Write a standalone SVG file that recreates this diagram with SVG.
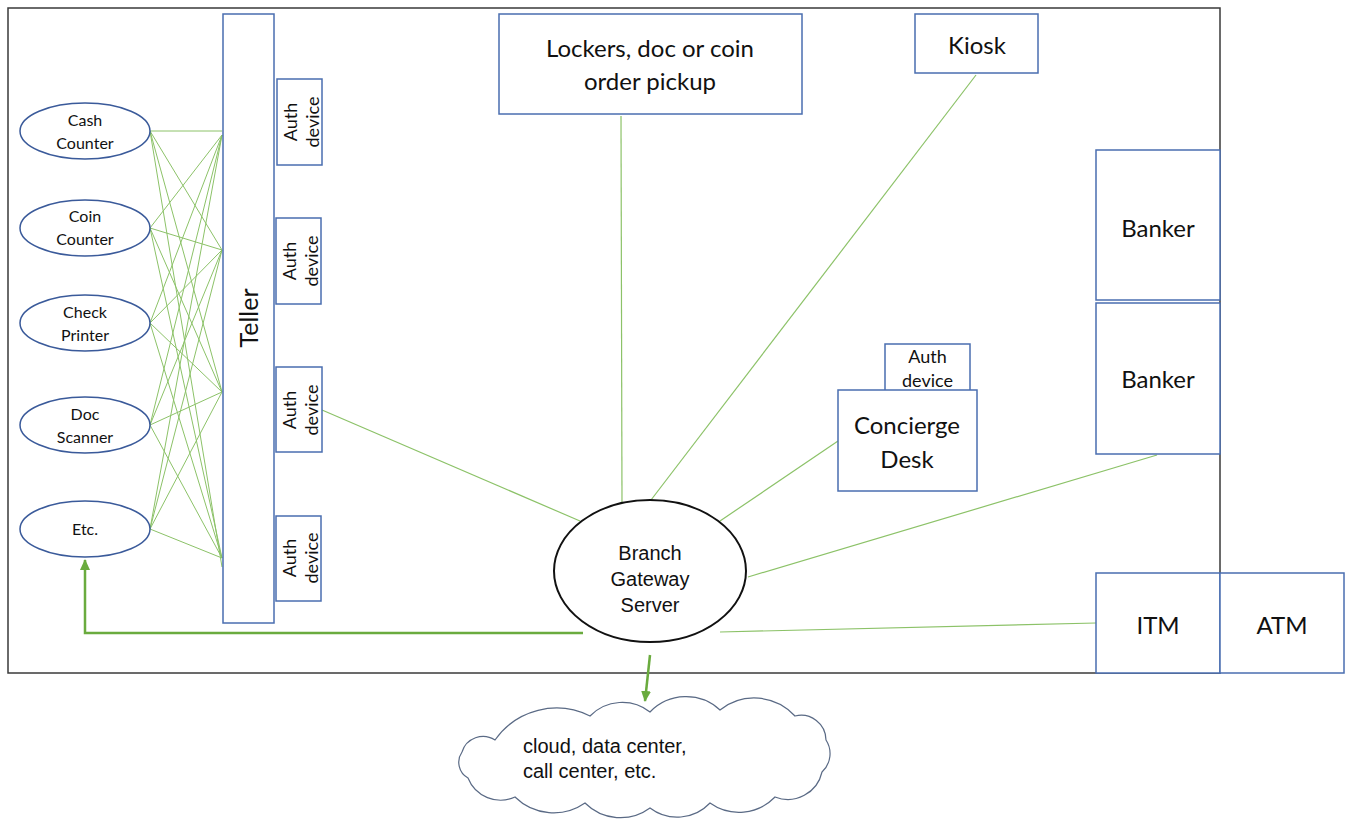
<svg xmlns="http://www.w3.org/2000/svg" width="1350" height="821" viewBox="0 0 1350 821">
<style>
.frame{fill:none;stroke:#3a3a3a;stroke-width:1.5}
.box{fill:#fff;stroke:#4a6eb0;stroke-width:1.5}
.ell{fill:#fff;stroke:#3a5a9a;stroke-width:1.5}
.mesh{stroke:#8cc268;stroke-width:1;fill:none}
.conn{stroke:#8cc268;stroke-width:1.2;fill:none}
.thick{stroke:#6aab3e;stroke-width:2.5;fill:none}
.t{font-family:Lato,"Liberation Sans",sans-serif;fill:#111;text-anchor:middle}
.s{font-family:"Liberation Sans",Arial,sans-serif;fill:#111}
</style>
<defs>
<marker id="ah" markerUnits="userSpaceOnUse" markerWidth="12" markerHeight="12" refX="10" refY="6" orient="auto">
<path d="M0,1 L11,6 L0,11 Z" fill="#6aab3e"/>
</marker>
</defs>
<rect class="frame" x="8" y="8" width="1212" height="665"/>
<g id="connectors">
<g id="mesh">
<line class="mesh" x1="150" y1="131" x2="222" y2="131"/>
<line class="mesh" x1="150" y1="131" x2="222" y2="250"/>
<line class="mesh" x1="150" y1="131" x2="222" y2="392"/>
<line class="mesh" x1="150" y1="131" x2="222" y2="567"/>
<line class="mesh" x1="150" y1="228" x2="222" y2="135"/>
<line class="mesh" x1="150" y1="228" x2="222" y2="250"/>
<line class="mesh" x1="150" y1="228" x2="222" y2="392"/>
<line class="mesh" x1="150" y1="228" x2="222" y2="558"/>
<line class="mesh" x1="150" y1="323" x2="222" y2="135"/>
<line class="mesh" x1="150" y1="323" x2="222" y2="250"/>
<line class="mesh" x1="150" y1="323" x2="222" y2="392"/>
<line class="mesh" x1="150" y1="323" x2="222" y2="558"/>
<line class="mesh" x1="150" y1="425" x2="222" y2="135"/>
<line class="mesh" x1="150" y1="425" x2="222" y2="250"/>
<line class="mesh" x1="150" y1="425" x2="222" y2="392"/>
<line class="mesh" x1="150" y1="425" x2="222" y2="558"/>
<line class="mesh" x1="150" y1="529" x2="222" y2="135"/>
<line class="mesh" x1="150" y1="529" x2="222" y2="250"/>
<line class="mesh" x1="150" y1="529" x2="222" y2="392"/>
<line class="mesh" x1="150" y1="529" x2="222" y2="558"/>
</g>
<line class="conn" x1="322" y1="410" x2="580" y2="521"/>
<line class="conn" x1="621" y1="116" x2="622" y2="505"/>
<line class="conn" x1="976" y1="75" x2="651" y2="500"/>
<line class="conn" x1="838" y1="441" x2="720" y2="521"/>
<line class="conn" x1="1157" y1="455" x2="748" y2="577"/>
<line class="conn" x1="1096" y1="623" x2="720" y2="632"/>
<polyline class="thick" points="583,633 85,633 85,560" marker-end="url(#ah)"/>
<line class="thick" x1="650" y1="655" x2="645" y2="701" marker-end="url(#ah)"/>
</g>
<g id="cash-counter"><ellipse class="ell" cx="85" cy="131" rx="65" ry="28"/><text class="t" font-size="16" x="85" y="126">Cash</text><text class="t" font-size="16" x="85" y="149">Counter</text></g>
<g id="coin-counter"><ellipse class="ell" cx="85" cy="228" rx="65" ry="28"/><text class="t" font-size="16" x="85" y="222">Coin</text><text class="t" font-size="16" x="85" y="245">Counter</text></g>
<g id="check-printer"><ellipse class="ell" cx="85" cy="323" rx="65" ry="28"/><text class="t" font-size="16" x="85" y="318">Check</text><text class="t" font-size="16" x="85" y="341">Printer</text></g>
<g id="doc-scanner"><ellipse class="ell" cx="85" cy="425" rx="65" ry="28"/><text class="t" font-size="16" x="85" y="420">Doc</text><text class="t" font-size="16" x="85" y="443">Scanner</text></g>
<g id="etc"><ellipse class="ell" cx="85" cy="529" rx="65" ry="28"/><text class="t" font-size="16" x="85" y="535">Etc.</text></g>
<g id="teller"><rect class="box" x="223" y="14" width="51" height="609"/><text class="t" font-size="25" transform="translate(249,318) rotate(-90)" x="0" y="9">Teller</text></g>
<g id="auth1"><rect class="box" x="277" y="79" width="45" height="86"/><text class="t" font-size="18" transform="translate(299.5,122) rotate(-90)"><tspan x="0" y="-3">Auth</tspan><tspan x="0" y="19">device</tspan></text></g>
<g id="auth2"><rect class="box" x="276" y="218" width="45" height="86"/><text class="t" font-size="18" transform="translate(298.5,261) rotate(-90)"><tspan x="0" y="-3">Auth</tspan><tspan x="0" y="19">device</tspan></text></g>
<g id="auth3"><rect class="box" x="276" y="367" width="46" height="85"/><text class="t" font-size="18" transform="translate(299,410) rotate(-90)"><tspan x="0" y="-3">Auth</tspan><tspan x="0" y="19">device</tspan></text></g>
<g id="auth4"><rect class="box" x="276" y="516" width="45" height="85"/><text class="t" font-size="18" transform="translate(298.5,558) rotate(-90)"><tspan x="0" y="-3">Auth</tspan><tspan x="0" y="19">device</tspan></text></g>
<g id="lockers"><rect class="box" x="499" y="14" width="303" height="100"/><text class="t" font-size="24" x="650" y="57">Lockers, doc or coin</text><text class="t" font-size="24" x="650" y="90">order pickup</text></g>
<g id="kiosk"><rect class="box" x="915" y="14" width="123" height="59"/><text class="t" font-size="24" x="977" y="54">Kiosk</text></g>
<g id="banker1"><rect class="box" x="1096" y="150" width="124" height="150"/><text class="t" font-size="24" x="1158" y="237">Banker</text></g>
<g id="banker2"><rect class="box" x="1096" y="303" width="124" height="151"/><text class="t" font-size="24" x="1158" y="388">Banker</text></g>
<g id="concierge-auth"><rect class="box" x="885" y="344" width="85" height="47"/><text class="t" font-size="18" x="927.5" y="363">Auth</text><text class="t" font-size="18" x="927.5" y="387">device</text></g>
<g id="concierge"><rect class="box" x="838" y="390" width="139" height="101"/><text class="t" font-size="24" x="907" y="434">Concierge</text><text class="t" font-size="24" x="907" y="468">Desk</text></g>
<g id="itm"><rect class="box" x="1096" y="573" width="124" height="100"/><text class="t" font-size="24" x="1158" y="634">ITM</text></g>
<g id="atm"><rect class="box" x="1220" y="573" width="124" height="100"/><text class="t" font-size="24" x="1282" y="634">ATM</text></g>
<g id="gateway"><ellipse cx="650" cy="571" rx="96" ry="71" fill="#fff" stroke="#111" stroke-width="2"/><text class="s" font-size="20" text-anchor="middle" x="650" y="560">Branch</text><text class="s" font-size="20" text-anchor="middle" x="650" y="586">Gateway</text><text class="s" font-size="20" text-anchor="middle" x="650" y="612">Server</text></g>
<g id="cloud"><path d="M495,740 A75,75 0 0 1 590,716 A45,45 0 0 1 650,712 A50,50 0 0 1 720,710 A55,55 0 0 1 795,716 A25,25 0 0 1 826,740 A25,25 0 0 1 822,772 A35,35 0 0 1 775,797 A50,50 0 0 1 710,803 A45,45 0 0 1 650,808 A50,50 0 0 1 585,803 A55,55 0 0 1 515,797 A35,35 0 0 1 468,778 A18,18 0 0 1 462,752 A22,22 0 0 1 495,740 Z" fill="#fff" stroke="#5a6a85" stroke-width="1.2"/><text class="s" font-size="20" x="523" y="753">cloud, data center,</text><text class="s" font-size="20" x="523" y="778">call center, etc.</text></g>
</svg>
